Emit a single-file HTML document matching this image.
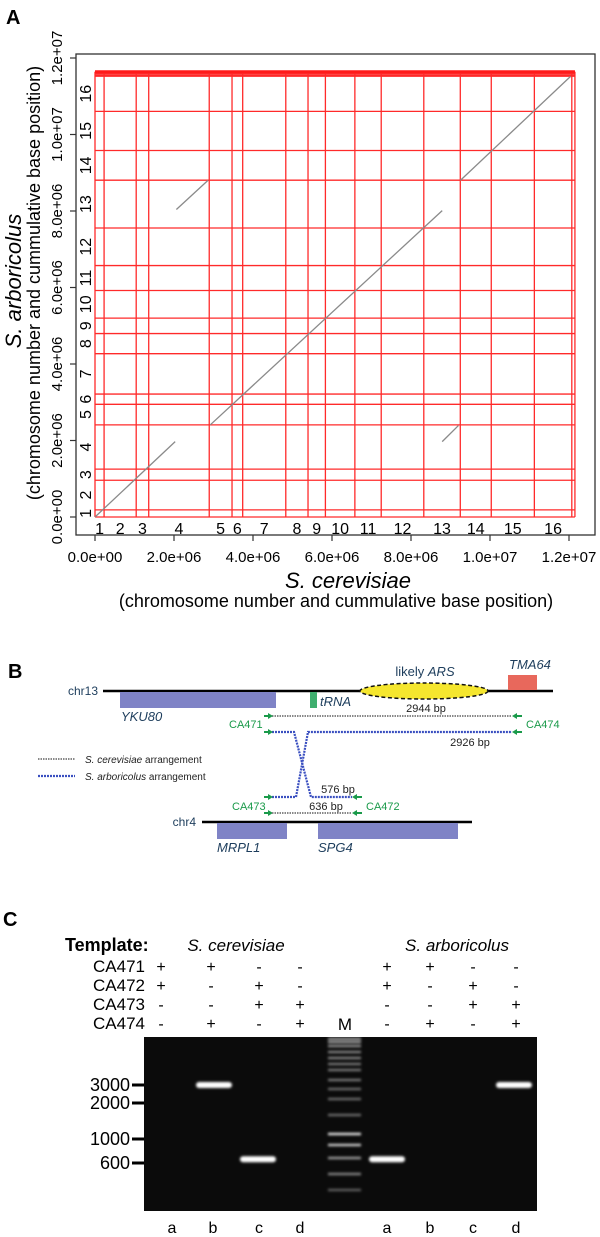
<!DOCTYPE html>
<html><head><meta charset="utf-8"><style>
html,body{margin:0;padding:0;background:#fff}
svg{display:block}
text{font-family:"Liberation Sans",sans-serif}
</style></head><body>
<svg id="fig" width="600" height="1237" viewBox="0 0 600 1237" xmlns="http://www.w3.org/2000/svg">
<defs><filter id="glow" x="-30%" y="-100%" width="160%" height="300%"><feGaussianBlur stdDeviation="1.2"/></filter></defs>
<text x="6" y="24" font-size="20" font-weight="bold">A</text>
<g id="dotplot"></g>
<text x="8" y="678" font-size="20" font-weight="bold">B</text>
<g id="diagram">
 <line x1="103" y1="691" x2="553" y2="691" stroke="#000" stroke-width="2.5"/>
 <text x="98" y="695" font-size="12" fill="#1d3d5c" text-anchor="end">chr13</text>
 <rect x="120" y="692" width="156" height="16" fill="#7f83c6"/>
 <text x="121" y="721" font-size="13" font-style="italic" fill="#1d3d5c">YKU80</text>
 <rect x="310" y="692" width="7" height="16" fill="#3fae6e"/>
 <text x="320" y="706" font-size="13" font-style="italic" fill="#1d3d5c">tRNA</text>
 <ellipse cx="424" cy="691" rx="64" ry="8" fill="#f5e62e" stroke="#111" stroke-width="1.5" stroke-dasharray="4,2.5"/>
 <text x="425" y="676" font-size="13" fill="#1d3d5c" text-anchor="middle">likely <tspan font-style="italic">ARS</tspan></text>
 <rect x="508" y="675" width="29" height="15" fill="#e8685c"/>
 <text x="509" y="669" font-size="13" font-style="italic" fill="#1d3d5c">TMA64</text>
 <line x1="272" y1="716" x2="512" y2="716" stroke="#888" stroke-width="2" stroke-dasharray="1.5,1"/>
 <text x="426" y="712" font-size="11" text-anchor="middle" fill="#222">2944 bp</text>
 <polyline points="272,732 294,732 311,797 352,797" fill="none" stroke="#3a4fc0" stroke-width="2.2" stroke-dasharray="2,1"/>
 <polyline points="272,797 296,797 308,732 512,732" fill="none" stroke="#3a4fc0" stroke-width="2.2" stroke-dasharray="2,1"/>
 <text x="470" y="746" font-size="11" text-anchor="middle" fill="#222">2926 bp</text>
 <g fill="#1a9a4a">
  <polygon points="264,715 268,715 268,713 273,716 268,719 268,717 264,717"/>
  <polygon points="264,731 268,731 268,729 273,732 268,735 268,733 264,733"/>
  <polygon points="264,796 268,796 268,794 273,797 268,800 268,798 264,798"/>
  <polygon points="264,812 268,812 268,810 273,813 268,816 268,814 264,814"/>
  <polygon points="522,715 517,715 517,713 512,716 517,719 517,717 522,717"/>
  <polygon points="522,731 517,731 517,729 512,732 517,735 517,733 522,733"/>
  <polygon points="362,796 357,796 357,794 352,797 357,800 357,798 362,798"/>
  <polygon points="362,812 357,812 357,810 352,813 357,816 357,814 362,814"/>
 </g>
 <text x="229" y="728" font-size="11" fill="#1a9a4a">CA471</text>
 <text x="526" y="728" font-size="11" fill="#1a9a4a">CA474</text>
 <text x="232" y="810" font-size="11" fill="#1a9a4a">CA473</text>
 <text x="366" y="810" font-size="11" fill="#1a9a4a">CA472</text>
 <text x="338" y="793" font-size="11" text-anchor="middle" fill="#222">576 bp</text>
 <line x1="272" y1="813" x2="352" y2="813" stroke="#888" stroke-width="2" stroke-dasharray="1.5,1"/>
 <text x="326" y="810" font-size="11" text-anchor="middle" fill="#222">636 bp</text>
 <line x1="38" y1="759" x2="75" y2="759" stroke="#888" stroke-width="2" stroke-dasharray="1.5,1"/>
 <text x="85" y="763" font-size="10" fill="#222"><tspan font-style="italic">S. cerevisiae</tspan> arrangement</text>
 <line x1="38" y1="776" x2="75" y2="776" stroke="#3a4fc0" stroke-width="2.2" stroke-dasharray="2,1"/>
 <text x="85" y="780" font-size="10" fill="#222"><tspan font-style="italic">S. arboricolus</tspan> arrangement</text>
 <line x1="202" y1="822" x2="472" y2="822" stroke="#000" stroke-width="2.5"/>
 <text x="196" y="826" font-size="12" fill="#1d3d5c" text-anchor="end">chr4</text>
 <rect x="217" y="823" width="70" height="16" fill="#7f83c6"/>
 <rect x="318" y="823" width="140" height="16" fill="#7f83c6"/>
 <text x="217" y="852" font-size="13" font-style="italic" fill="#1d3d5c">MRPL1</text>
 <text x="318" y="852" font-size="13" font-style="italic" fill="#1d3d5c">SPG4</text>
</g>
<text x="3" y="926" font-size="20" font-weight="bold">C</text>
<g id="gel"></g>
</svg>
<script>
// ---- Panel A data (kb) ----
const xChromBounds = [0,230,1043,1360,2892,3469,3739,4830,5393,5833,6579,7246,8324,9248,10032,11123,12071];
const yChromBounds = [0,186,961,1251,2408,2946,3214,4269,4796,5199,5922,6573,7556,8806,9581,10605,11524];
const yExtraBounds = [11560,11600,11630,11650];
const chromLabels = ["1","2","3","4","5","6","7","8","9","10","11","12","13","14","15","16"];
const tickValues = [0,2000,4000,6000,8000,10000,12000];
const tickLabels = ["0.0e+00","2.0e+06","4.0e+06","6.0e+06","8.0e+06","1.0e+07","1.2e+07"];
const segX0 = [0,2060,2920,8790,9250];
const segY0 = [0,8040,2410,1970,8800];
const segX1 = [2030,2860,8790,9200,12040];
const segY1 = [1970,8800,8010,2390,11520];

const NS="http://www.w3.org/2000/svg";
function xs(v){return 95+v*474/12000;}
function ys(v){return 517-v*459/12000;}
function mk(parent,tag,attrs,txt){const e=document.createElementNS(NS,tag);for(const k in attrs)e.setAttribute(k,attrs[k]);if(txt!==undefined)e.textContent=txt;parent.appendChild(e);return e;}

const A=document.getElementById('dotplot');
let e;
e=mk(A,'rect',{x:76,y:54,width:519,height:481,fill:'none',stroke:'#333','stroke-width':1.3});


const xMaxK=12150, yMaxK=11640;
xChromBounds.concat([xMaxK]).forEach(v=>{
  e=mk(A,'line',{x1:xs(v),x2:xs(v),y1:ys(0),y2:ys(yMaxK),stroke:'#ff2a2a','stroke-width':1.3});
  
  
});
yChromBounds.concat(yExtraBounds).forEach(v=>{
  e=mk(A,'line',{x1:xs(0),x2:xs(xMaxK),y1:ys(v),y2:ys(v),stroke:'#ff2a2a','stroke-width':1.3});
  
  
});
e=mk(A,'line',{x1:xs(0),x2:xs(xMaxK),y1:ys(yMaxK),y2:ys(yMaxK),stroke:'#ff1a1a','stroke-width':3});


for(let i=0;i<segX0.length;i++){
  e=mk(A,'line',{x1:xs(segX0[i]),y1:ys(segY0[i]),x2:xs(segX1[i]),y2:ys(segY1[i]),stroke:'#8a8a8a','stroke-width':1.3});
  
  
}
tickValues.forEach((v,i)=>{
  e=mk(A,'line',{x1:xs(v),x2:xs(v),y1:535,y2:541,stroke:'#333','stroke-width':1.2});
  
  
  e=mk(A,'text',{x:xs(v),y:562,'font-size':15,'text-anchor':'middle'},tickLabels[i]);
  
  
  e=mk(A,'line',{x1:70,x2:76,y1:ys(v),y2:ys(v),stroke:'#333','stroke-width':1.2});
  
  
  e=mk(A,'text',{x:0,y:0,'font-size':15,'text-anchor':'middle',transform:`translate(62,${ys(v)}) rotate(-90)`},tickLabels[i]);
  
  
});
chromLabels.forEach((l,i)=>{
  const xm=(xChromBounds[i]+xChromBounds[i+1])/2;
  e=mk(A,'text',{x:xs(xm),y:534,'font-size':16,'text-anchor':'middle'},l);
  
  
  const yTop=i+1<yChromBounds.length?yChromBounds[i+1]:yMaxK;
  const ym=(yChromBounds[i]+yTop)/2;
  e=mk(A,'text',{x:0,y:0,'font-size':16,'text-anchor':'middle',transform:`translate(91,${ys(ym)}) rotate(-90)`},l);
  
  
});
e=mk(A,'text',{x:348,y:588,'font-size':22,'font-style':'italic','text-anchor':'middle'},'S. cerevisiae');


e=mk(A,'text',{x:336,y:607,'font-size':18,'text-anchor':'middle'},'(chromosome number and cummulative base position)');


e=mk(A,'text',{x:0,y:0,'font-size':22,'font-style':'italic','text-anchor':'middle',transform:'translate(21,281) rotate(-90)'},'S. arboricolus');


e=mk(A,'text',{x:0,y:0,'font-size':18,'text-anchor':'middle',transform:'translate(40,283) rotate(-90)'},'(chromosome number and cummulative base position)');



// ---- Panel C data ----
const primerNames = ["CA471","CA472","CA473","CA474"];
const laneX = [161,211,259,300,387,430,473,516];
const primerSigns = [
  ["+","+","-","-","+","+","-","-"],
  ["+","-","+","-","+","-","+","-"],
  ["-","-","+","+","-","-","+","+"],
  ["-","+","-","+","-","+","-","+"]];
const laneLetters = ["a","b","c","d","a","b","c","d"];
const letterX = [172,213,259,300,387,430,473,516];
const markerSizes = [3000,2000,1000,600];
const markerY = [1085,1103,1139,1163];
const bandLaneX = [214,258,387,514];
const bandSizes = [3000,650,650,3000];
const ladderY = [1039,1042,1046,1052,1058,1064,1070,1080,1089,1099,1115,1134,1145,1158,1174,1190];
const ladderBright = [0.6,0.6,0.55,0.5,0.5,0.45,0.45,0.45,0.4,0.4,0.4,0.9,0.8,0.6,0.5,0.35];

function sizeToY(s){ // log interpolation between marker ticks
  const ls=Math.log(s);
  for(let i=0;i<markerSizes.length-1;i++){
    const a=Math.log(markerSizes[i]),b=Math.log(markerSizes[i+1]);
    if(ls<=a&&ls>=b) return markerY[i]+(a-ls)/(a-b)*(markerY[i+1]-markerY[i]);
  }
  const a=Math.log(markerSizes[2]),b=Math.log(markerSizes[3]);
  return markerY[2]+(a-ls)/(a-b)*(markerY[3]-markerY[2]);
}

const C=document.getElementById('gel');
e=mk(C,'text',{x:65,y:951,'font-size':18,'font-weight':'bold'},'Template:');


e=mk(C,'text',{x:236,y:951,'font-size':17,'font-style':'italic','text-anchor':'middle'},'S. cerevisiae');


e=mk(C,'text',{x:457,y:951,'font-size':17,'font-style':'italic','text-anchor':'middle'},'S. arboricolus');


const rowY=[972,991,1010,1029];
primerNames.forEach((p,r)=>{
  e=mk(C,'text',{x:145,y:rowY[r],'font-size':17,'text-anchor':'end'},p);
  
  
  primerSigns[r].forEach((s,i)=>{
    e=mk(C,'text',{x:laneX[i],y:rowY[r],'font-size':16,'text-anchor':'middle'},s);
    
    
  });
});
e=mk(C,'text',{x:345,y:1030,'font-size':17,'text-anchor':'middle'},'M');


e=mk(C,'rect',{x:144,y:1037,width:393,height:174,fill:'#0b0b0b'});


ladderY.forEach((y,i)=>{
  e=mk(C,'rect',{x:328,y:y-1.2,width:33,height:2.4,fill:'#fff','fill-opacity':ladderBright[i],filter:'url(#glow)'});
  
  
});
bandLaneX.forEach((x,i)=>{
  const y=sizeToY(bandSizes[i]);
  e=mk(C,'rect',{x:x-18,y:y-3,width:36,height:6,rx:3,fill:'#fff',filter:'url(#glow)'});
  
  
});
markerSizes.forEach((s,i)=>{
  e=mk(C,'rect',{x:132,y:markerY[i]-1.5,width:12,height:3,fill:'#000'});
  
  
  e=mk(C,'text',{x:130,y:markerY[i]+6,'font-size':18,'text-anchor':'end'},String(s));
  
  
});
laneLetters.forEach((l,i)=>{
  e=mk(C,'text',{x:letterX[i],y:1233,'font-size':16,'text-anchor':'middle'},l);
  
  
});
</script>
</body></html>
